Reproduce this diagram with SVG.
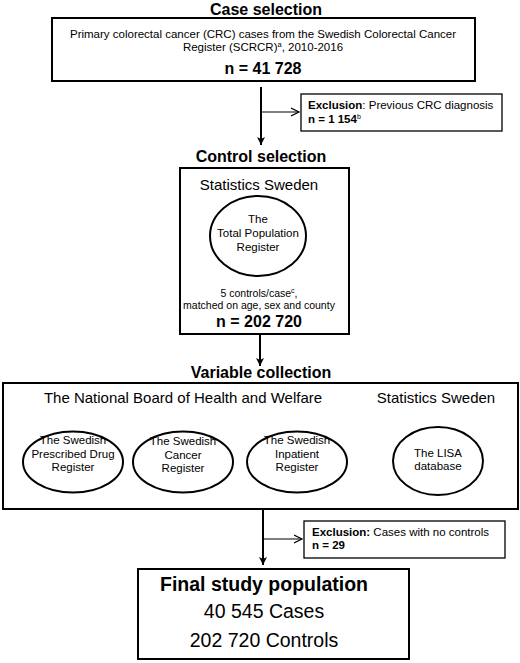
<svg xmlns="http://www.w3.org/2000/svg" width="520" height="663" viewBox="0 0 520 663">
<defs>
<style>
text{font-family:"Liberation Sans",Arial,sans-serif;fill:#000;text-anchor:middle}
.box{fill:#fff;stroke:#000;stroke-width:2}
.xbox{fill:#fff;stroke:#000;stroke-width:1.3}
.ell{fill:#fff;stroke:#000;stroke-width:2}
.title{font-size:16px;font-weight:bold}
.big{font-size:15px}
.sm{font-size:11.5px}
.ct{font-size:10.5px}
.xs{font-size:11.5px;text-anchor:start}
.n{font-size:16px;font-weight:bold}
.main{stroke:#000;stroke-width:2;fill:none}
.br{stroke:#000;stroke-width:1.2;fill:none}
</style>
<marker id="ah" markerWidth="10" markerHeight="10" refX="8" refY="5" orient="auto" markerUnits="userSpaceOnUse">
<path d="M0,1 L8,5 L0,9 L2,5 Z" fill="#000"/>
</marker>
<marker id="oh" markerWidth="10" markerHeight="10" refX="8" refY="5" orient="auto" markerUnits="userSpaceOnUse">
<path d="M0,1 L8,5 L0,9" fill="none" stroke="#000" stroke-width="1.2"/>
</marker>
</defs>
<rect width="520" height="663" fill="#fff"/>

<g id="connectors">
<line class="main" x1="261" y1="87" x2="261" y2="145" marker-end="url(#ah)"/>
<line class="br" x1="261" y1="112" x2="299" y2="112" marker-end="url(#oh)"/>
<line class="main" x1="260" y1="335" x2="260" y2="366" marker-end="url(#ah)"/>
<line class="main" x1="263" y1="509" x2="263" y2="565" marker-end="url(#ah)"/>
<line class="br" x1="263" y1="539" x2="302" y2="539" marker-end="url(#oh)"/>
</g>

<g id="case-selection">
<text class="title" x="266" y="15">Case selection</text>
<rect class="box" x="52" y="18" width="423" height="63"/>
<text class="sm" x="263" y="38">Primary colorectal cancer (CRC) cases from the Swedish Colorectal Cancer</text>
<text class="sm" x="263" y="51">Register (SCRCR)<tspan font-size="7.5" dy="-4">a</tspan><tspan dy="4">, 2010-2016</tspan></text>
<text class="n" x="263" y="74">n = 41 728</text>
</g>

<g id="exclusion1">
<rect class="xbox" x="301" y="94" width="201" height="37"/>
<text class="xs" x="308" y="109"><tspan font-weight="bold">Exclusion</tspan>: Previous CRC diagnosis</text>
<text class="xs" x="308" y="123" font-weight="bold">n = 1 154<tspan font-size="7" font-weight="normal" dy="-4">b</tspan></text>
</g>

<g id="control-selection">
<text class="title" x="261" y="162">Control selection</text>
<rect class="box" x="180" y="168" width="169" height="166"/>
<text class="big" x="259" y="190">Statistics Sweden</text>
</g>

<g id="total-population-register">
<ellipse class="ell" cx="258" cy="236" rx="48" ry="40"/>
<text class="sm" x="258" y="223">The</text>
<text class="sm" x="258" y="237">Total Population</text>
<text class="sm" x="258" y="251">Register</text>
</g>

<g id="control-text">
<text class="ct" x="259" y="297">5 controls/case<tspan font-size="7" dy="-4">c</tspan><tspan dy="4">,</tspan></text>
<text class="ct" x="259" y="309">matched on age, sex and county</text>
<text class="n" x="259" y="327">n = 202 720</text>
</g>

<g id="variable-collection">
<text class="title" x="261" y="378">Variable collection</text>
<rect class="box" x="3" y="383" width="515" height="126"/>
<text class="big" x="183" y="403" font-size="15.4">The National Board of Health and Welfare</text>
<text class="big" x="436" y="403">Statistics Sweden</text>
</g>

<g id="prescribed-drug-register">
<ellipse class="ell" cx="73" cy="462" rx="50" ry="30.5"/>
<text class="sm" x="73" y="444">The Swedish</text>
<text class="sm" x="73" y="458">Prescribed Drug</text>
<text class="sm" x="73" y="471">Register</text>
</g>

<g id="cancer-register">
<ellipse class="ell" cx="183" cy="462" rx="50" ry="30.5"/>
<text class="sm" x="183" y="445">The Swedish</text>
<text class="sm" x="183" y="459">Cancer</text>
<text class="sm" x="183" y="472">Register</text>
</g>

<g id="inpatient-register">
<ellipse class="ell" cx="297" cy="462" rx="50" ry="30.5"/>
<text class="sm" x="297" y="444">The Swedish</text>
<text class="sm" x="297" y="458">Inpatient</text>
<text class="sm" x="297" y="471">Register</text>
</g>

<g id="lisa-database">
<ellipse class="ell" cx="438" cy="461" rx="45" ry="34"/>
<text class="sm" x="438" y="457">The LISA</text>
<text class="sm" x="438" y="470">database</text>
</g>

<g id="exclusion2">
<rect class="xbox" x="304" y="521" width="201" height="37"/>
<text class="xs" x="312" y="536"><tspan font-weight="bold">Exclusion:</tspan> Cases with no controls</text>
<text class="xs" x="312" y="549" font-weight="bold">n = 29</text>
</g>

<g id="final-study-population">
<rect class="box" x="138" y="569" width="271" height="90"/>
<text x="264" y="591" font-size="19.5" font-weight="bold">Final study population</text>
<text x="264" y="618" font-size="19.5">40 545 Cases</text>
<text x="264" y="647" font-size="19.5">202 720 Controls</text>
</g>
</svg>
